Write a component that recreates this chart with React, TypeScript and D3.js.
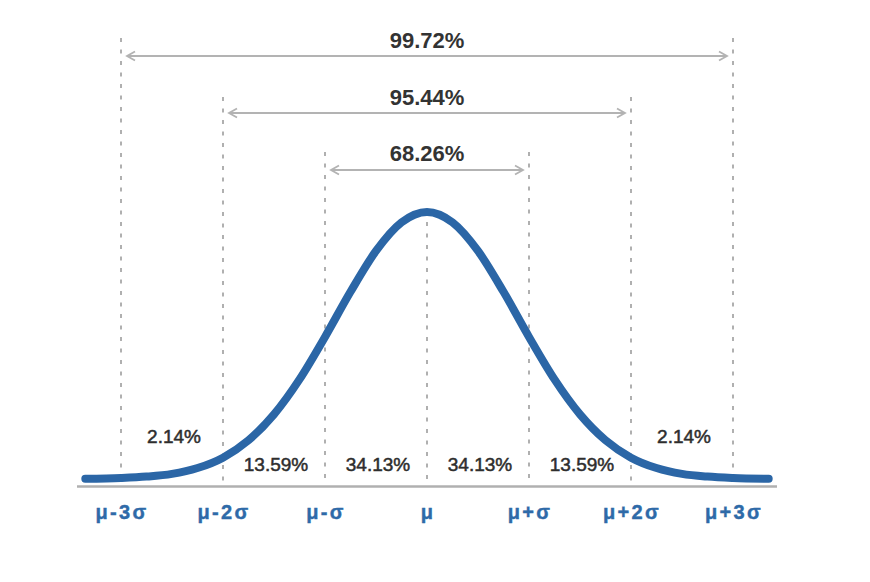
import React from "react";
import * as d3 from "d3";

// Tick labels at each sigma position
const tickPositions = [-3, -2, -1, 0, 1, 2, 3];
const tickLabels = ["μ-3σ", "μ-2σ", "μ-σ", "μ", "μ+σ", "μ+2σ", "μ+3σ"];

// Segment percentages (between consecutive sigma positions)
const segmentStarts = [-3, -2, -1, 0, 1, 2];
const segmentLabels = ["2.14%", "13.59%", "34.13%", "34.13%", "13.59%", "2.14%"];
const segmentRaised = [true, false, false, false, false, true];

// Range arrows (in sigma units)
const rangeSpans = [3, 2, 1];
const rangeLabels = ["99.72%", "95.44%", "68.26%"];

// Curve height (fraction of peak) at sigma positions
const curveX = [-3.35, -3, -2.75, -2.5, -2.25, -2, -1.75, -1.5, -1.25, -1, -0.75, -0.5, -0.25, 0,
  0.25, 0.5, 0.75, 1, 1.25, 1.5, 1.75, 2, 2.25, 2.5, 2.75, 3, 3.35];
const curveY = [0.001, 0.004, 0.009, 0.019, 0.041, 0.08, 0.145, 0.242, 0.373, 0.532, 0.701, 0.854, 0.961, 1,
  0.961, 0.854, 0.701, 0.532, 0.373, 0.242, 0.145, 0.08, 0.041, 0.019, 0.009, 0.004, 0.001];

const W = 870;
const H = 582;

export default function App() {
  const x = d3.scaleLinear().domain([-3, 3]).range([121, 733]);
  const y = d3.scaleLinear().domain([0, 1]).range([479, 212]);
  const axisY = 486.5;

  const pts: [number, number][] = curveX.map((v, i) => [x(v), y(curveY[i])]);
  const line = d3.line<[number, number]>().x(d => d[0]).y(d => d[1]).curve(d3.curveMonotoneX);
  const pathD = line(pts) || "";

  const dashTop: Record<number, number> = { 3: 38, 2: 97, 1: 152, 0: 222 };
  const arrowY = [56, 113, 170];
  const labelY = [48, 105, 161];

  const gray = "#b3b3b3";
  const blue = "#2b66a6";
  const labelBlue = "#2e6aa8";

  return (
    <svg width={W} height={H} style={{ position: "absolute", left: 0, top: 0, background: "#fff" }}
      fontFamily="'Liberation Sans', Arial, sans-serif">
      {/* dashed vertical guides */}
      {tickPositions.map(t => (
        <line key={"d" + t} x1={x(t)} x2={x(t)} y1={dashTop[Math.abs(t)]} y2={axisY - 2}
          stroke="#a8a8a8" strokeWidth={1.8} strokeDasharray="4 7.5" />
      ))}
      {/* range arrows */}
      {rangeSpans.map((s, i) => {
        const x1 = x(-s) + 6;
        const x2 = x(s) - 6;
        const yy = arrowY[i];
        return (
          <g key={"r" + s}>
            <line x1={x1} x2={x2} y1={yy} y2={yy} stroke={gray} strokeWidth={1.8} />
            <polyline points={`${x1 + 8},${yy - 4.5} ${x1},${yy} ${x1 + 8},${yy + 4.5}`} fill="none" stroke={gray} strokeWidth={1.8} />
            <polyline points={`${x2 - 8},${yy - 4.5} ${x2},${yy} ${x2 - 8},${yy + 4.5}`} fill="none" stroke={gray} strokeWidth={1.8} />
            <text x={x(0)} y={labelY[i]} textAnchor="middle" fontSize={22} fontWeight="bold" fill="#333">
              {rangeLabels[i]}
            </text>
          </g>
        );
      })}
      {/* axis line */}
      <line x1={77} x2={777} y1={axisY} y2={axisY} stroke="#b0b0b0" strokeWidth={2.5} />
      {/* curve */}
      <path d={pathD} fill="none" stroke={blue} strokeWidth={8} strokeLinecap="round" />
      {/* segment labels */}
      {segmentStarts.map((s, i) => (
        <text key={"s" + i} x={x(s + 0.5) + 2} y={segmentRaised[i] ? 443 : 471} textAnchor="middle"
          fontSize={19} fill="#2e2e2e" stroke="#2e2e2e" strokeWidth={0.5}>
          {segmentLabels[i]}
        </text>
      ))}
      {/* tick labels */}
      {tickPositions.map((t, i) => (
        <text key={"t" + t} x={x(t) + 1} y={519} textAnchor="middle" fontSize={20} fontWeight="bold"
          fill={labelBlue} stroke={labelBlue} strokeWidth={0.4} letterSpacing={2.3}>
          {tickLabels[i]}
        </text>
      ))}
    </svg>
  );
}
